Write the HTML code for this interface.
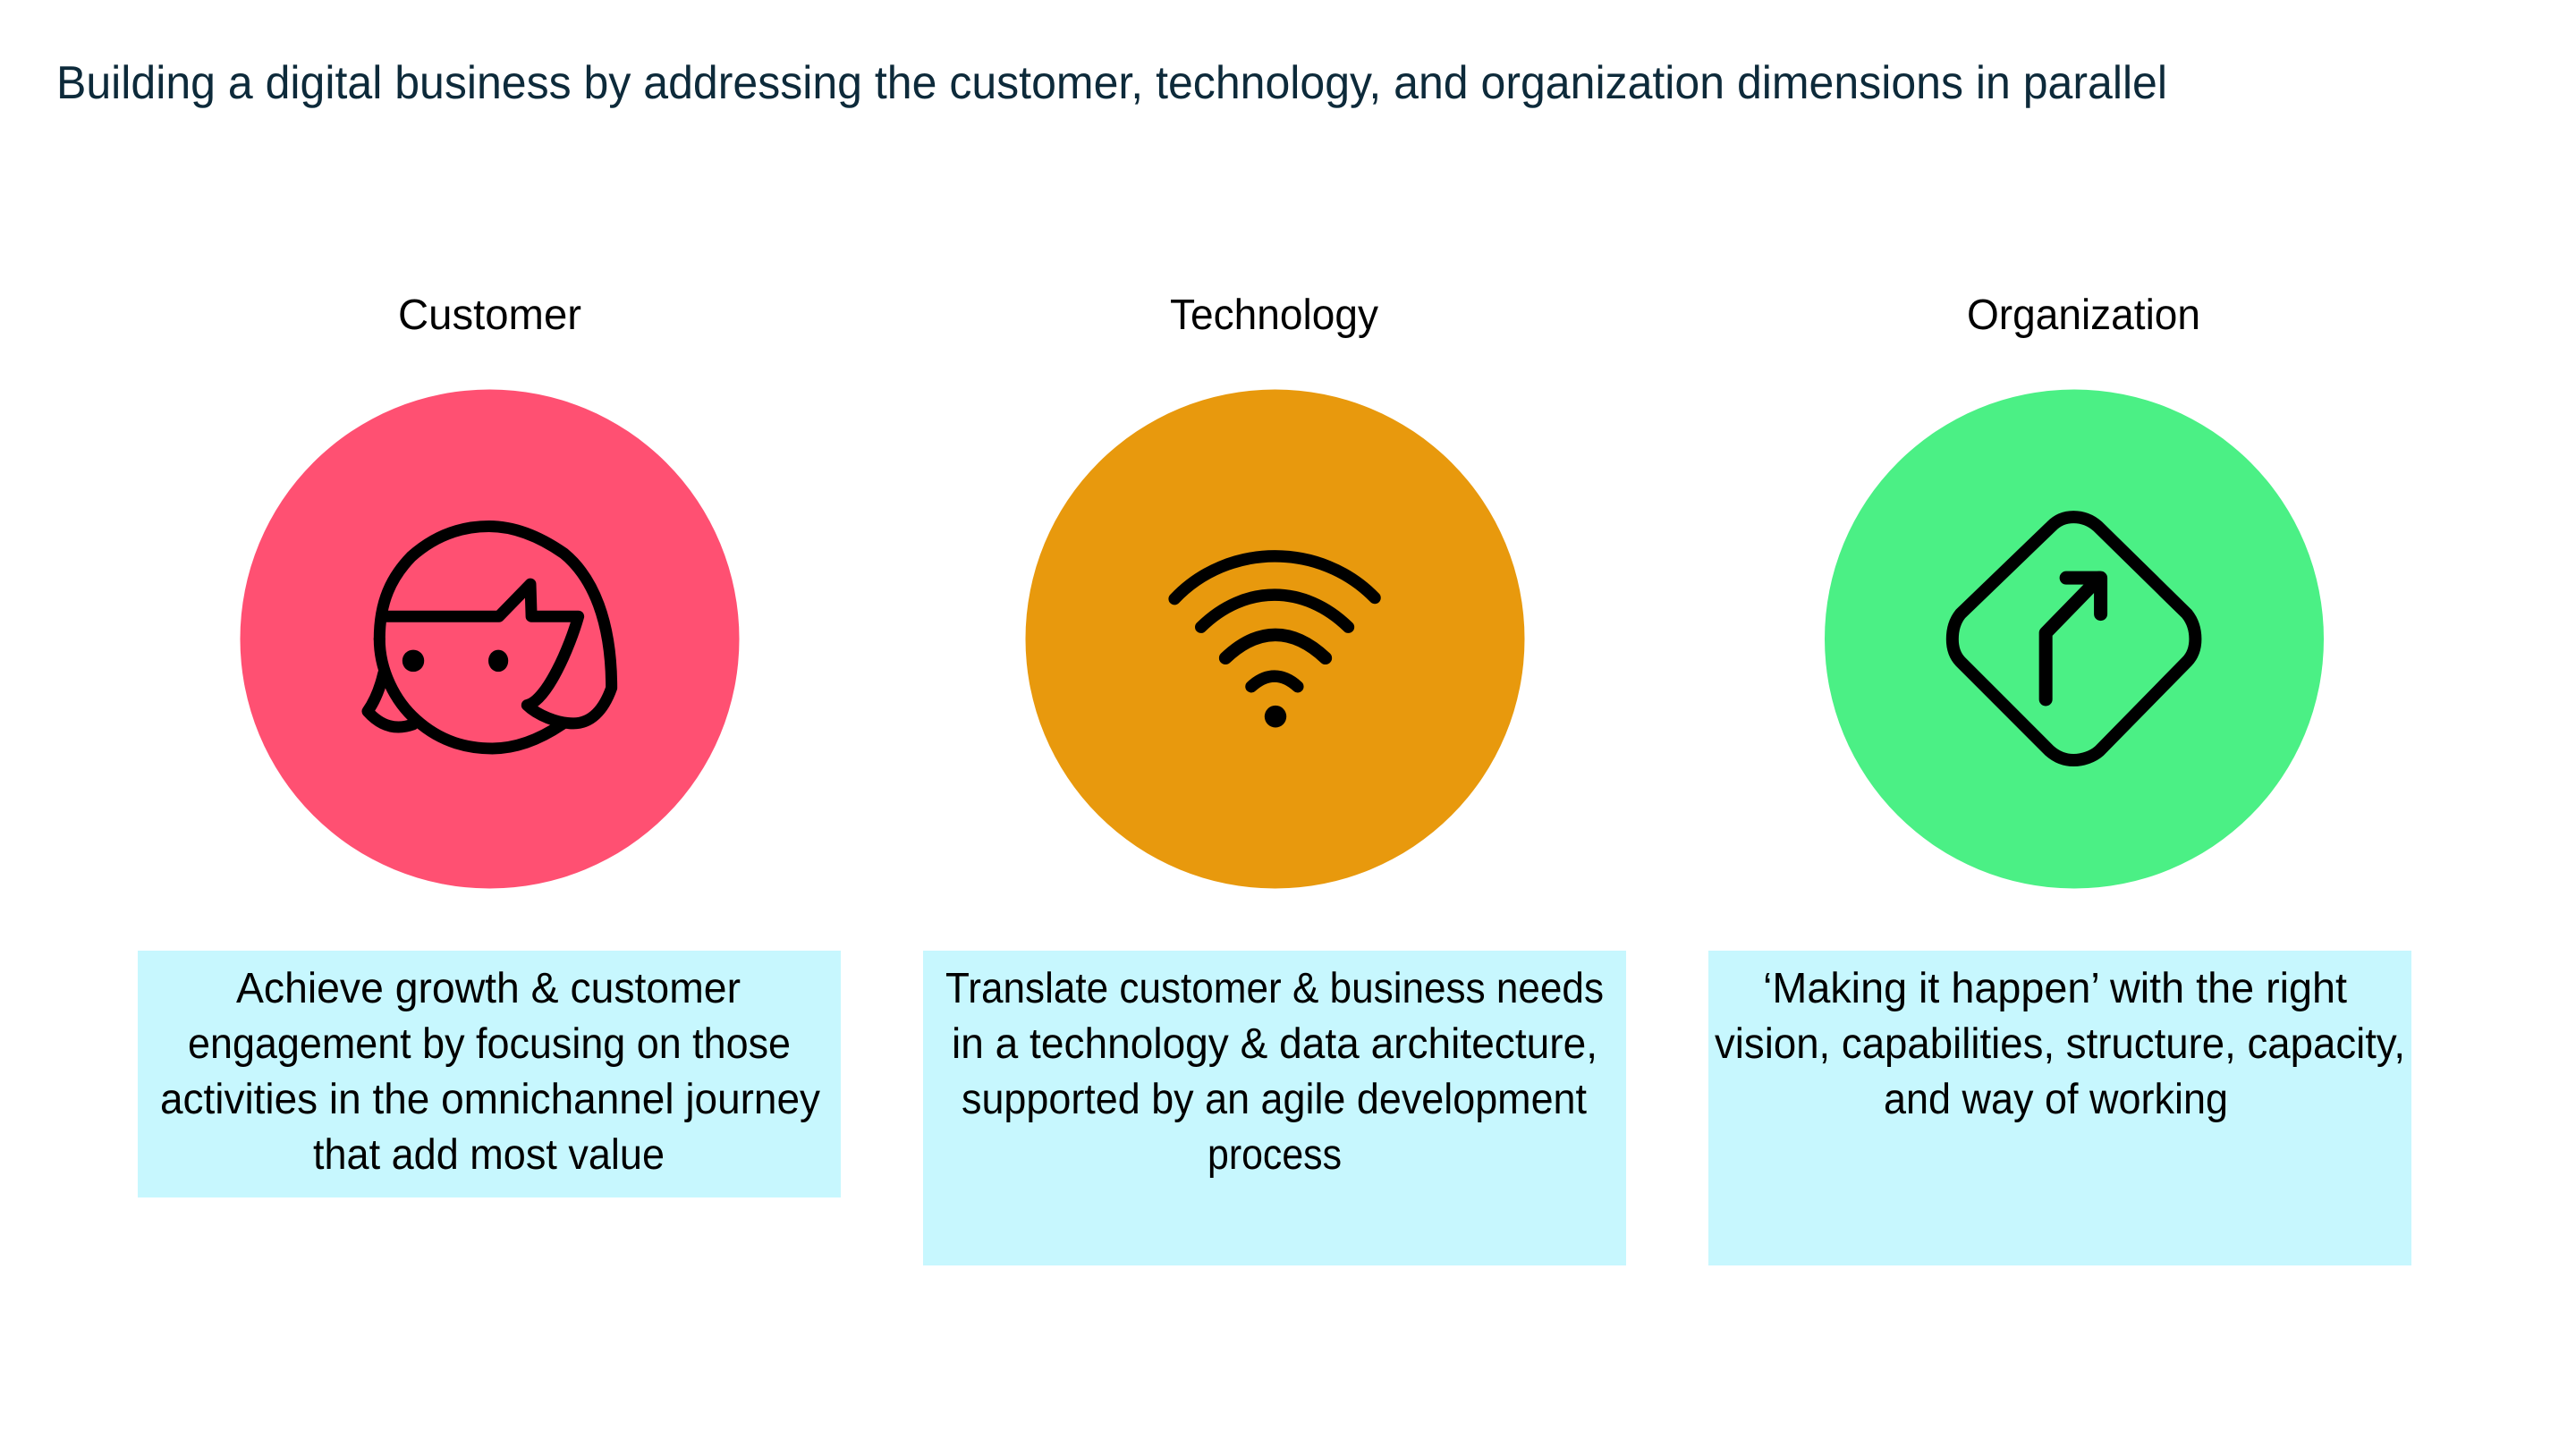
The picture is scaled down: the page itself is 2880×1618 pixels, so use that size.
<!DOCTYPE html>
<html><head><meta charset="utf-8"><style>
html,body{margin:0;padding:0;background:#fff;width:2880px;height:1618px;overflow:hidden}
svg{display:block}
text{font-family:"Liberation Sans",sans-serif;fill:#000;text-rendering:geometricPrecision}
.b{font-size:48px}
.l{font-size:48px}
.i{fill:none;stroke:#000;stroke-linecap:round;stroke-linejoin:round;vector-effect:non-scaling-stroke}
</style></head><body>
<svg width="2880" height="1618" viewBox="0 0 2880 1618" xmlns="http://www.w3.org/2000/svg">
<rect width="2880" height="1618" fill="#fff"/>
<text x="63" y="110" style="font-size:52px;fill:#0d2a3a" textLength="2360" lengthAdjust="spacingAndGlyphs">Building a digital business by addressing the customer, technology, and organization dimensions in parallel</text>
<text class="l" x="445" y="368" textLength="205" lengthAdjust="spacingAndGlyphs">Customer</text>
<text class="l" x="1308" y="368" textLength="233" lengthAdjust="spacingAndGlyphs">Technology</text>
<text class="l" x="2199" y="368" textLength="261" lengthAdjust="spacingAndGlyphs">Organization</text>

<circle cx="547.5" cy="714.5" r="279" fill="#ff5072"/>
<circle cx="1425.5" cy="714.5" r="279" fill="#e8990d"/>
<circle cx="2319" cy="714.5" r="279" fill="#4bf085"/>

<g transform="translate(260,418.5) scale(0.37,0.3846)">
<path class="i" stroke-width="13" d="M444 770C444 660 480 590 540 530C610 470 690 442 775 442C850 442 925 470 1000 520C1090 590 1145 720 1145 912C1120 980 1080 1015 1030 1015C980 1015 920 990 890 962C950 950 1020 790 1045 704H903L900 610L805 704H455"/>
<path class="i" stroke-width="13" d="M444 770C444 860 490 950 555 1005C630 1070 710 1088 785 1088C860 1088 930 1060 995 1018"/>
<path class="i" stroke-width="13" d="M456 870C445 915 430 950 408 980C450 1025 495 1035 545 1018"/>
<ellipse cx="546" cy="833" rx="33" ry="32"/>
<ellipse cx="803" cy="833" rx="30" ry="32"/>
</g>

<g transform="translate(1140,418.5) scale(0.37,0.3846)">
<path class="i" stroke-width="13.5" d="M468 653C630 488 910 488 1073 650"/>
<path class="i" stroke-width="13.5" d="M548 735C680 610 860 610 993 735"/>
<path class="i" stroke-width="14.5" d="M622 825C720 735 825 735 924 825"/>
<path class="i" stroke-width="13.5" d="M700 908C745 868 795 868 840 908"/>
<ellipse cx="773" cy="995" rx="33" ry="32"/>
</g>

<g transform="translate(2040,418.5) scale(0.37,0.3846)">
<path class="i" stroke-width="14" d="M685 442C705 422 730 415 752 415C780 415 805 425 825 442L1095 697C1110 715 1120 740 1120 770C1120 800 1110 820 1095 835L830 1095C810 1112 780 1122 752 1122C725 1122 700 1112 680 1095L410 835C395 820 386 800 386 770C386 740 395 715 410 697Z"/>
<path class="i" stroke-width="15" d="M668 945V752L830 592"/>
<path class="i" stroke-width="15" d="M730 592H834V697"/>
</g>

<rect x="154" y="1063" width="786" height="276" fill="#c7f7fe"/>
<rect x="1032" y="1063" width="786" height="352" fill="#c7f7fe"/>
<rect x="1910" y="1063" width="786" height="352" fill="#c7f7fe"/>

<text class="b" x="264" y="1121" textLength="564" lengthAdjust="spacingAndGlyphs">Achieve growth &amp; customer</text>
<text class="b" x="210" y="1183" textLength="674" lengthAdjust="spacingAndGlyphs">engagement by focusing on those</text>
<text class="b" x="179" y="1245" textLength="738" lengthAdjust="spacingAndGlyphs">activities in the omnichannel journey</text>
<text class="b" x="350" y="1307" textLength="393" lengthAdjust="spacingAndGlyphs">that add most value</text>

<text class="b" x="1057" y="1121" textLength="736" lengthAdjust="spacingAndGlyphs">Translate customer &amp; business needs</text>
<text class="b" x="1064" y="1183" textLength="722" lengthAdjust="spacingAndGlyphs">in a technology &amp; data architecture,</text>
<text class="b" x="1075" y="1245" textLength="699" lengthAdjust="spacingAndGlyphs">supported by an agile development</text>
<text class="b" x="1350" y="1307" textLength="150" lengthAdjust="spacingAndGlyphs">process</text>

<text class="b" x="1971" y="1121" textLength="653" lengthAdjust="spacingAndGlyphs">‘Making it happen’ with the right</text>
<text class="b" x="1917" y="1183" textLength="772" lengthAdjust="spacingAndGlyphs">vision, capabilities, structure, capacity,</text>
<text class="b" x="2106" y="1245" textLength="385" lengthAdjust="spacingAndGlyphs">and way of working</text>
</svg>
</body></html>
